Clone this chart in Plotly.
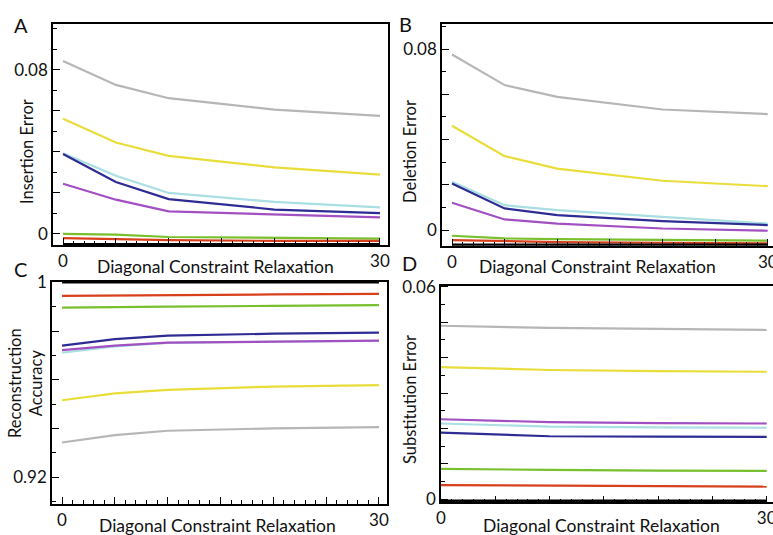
import plotly.graph_objects as go

# ---------------- data ----------------
relax = [0, 5, 10, 20, 30]
series_names = ["gray", "yellow", "cyan", "darkblue", "purple", "green", "red", "black"]
series_colors = ["#b6b6b6", "#e9dd3a", "#a9dfe3", "#2e2c94", "#a24fc2", "#78c02e", "#d8401c", "#000000"]

insertion = {
    "gray":     [0.0844, 0.0727, 0.0662, 0.0606, 0.0576],
    "yellow":   [0.0562, 0.0446, 0.0381, 0.0325, 0.0289],
    "cyan":     [0.0394, 0.0284, 0.0200, 0.0156, 0.0130],
    "darkblue": [0.0390, 0.0253, 0.0170, 0.0119, 0.0101],
    "purple":   [0.0245, 0.0167, 0.0110, 0.0097, 0.0081],
    "green":    [0.0000, -0.0003, -0.0015, -0.0020, -0.0023],
    "red":      [-0.0020, -0.0026, -0.0030, -0.0034, -0.0034],
    "black":    [-0.0051, -0.0051, -0.0051, -0.0051, -0.0051],
}
deletion = {
    "gray":     [0.0776, 0.0641, 0.0589, 0.0533, 0.0513],
    "yellow":   [0.0461, 0.0327, 0.0272, 0.0218, 0.0194],
    "cyan":     [0.0214, 0.0110, 0.0088, 0.0059, 0.0029],
    "darkblue": [0.0206, 0.0096, 0.0066, 0.0040, 0.0022],
    "purple":   [0.0121, 0.0047, 0.0029, 0.0007, -0.0003],
    "green":    [-0.0025, -0.0037, -0.0040, -0.0044, -0.0047],
    "red":      [-0.0044, -0.0050, -0.0053, -0.0056, -0.0059],
    "black":    [-0.0065, -0.0065, -0.0065, -0.0065, -0.0065],
}
accuracy = {
    "gray":     [0.9343, 0.9373, 0.9391, 0.9401, 0.9406],
    "yellow":   [0.9516, 0.9544, 0.9559, 0.9572, 0.9578],
    "cyan":     [0.9711, 0.9737, 0.9751, 0.9757, 0.9759],
    "darkblue": [0.9740, 0.9767, 0.9781, 0.9789, 0.9793],
    "purple":   [0.9722, 0.9740, 0.9752, 0.9758, 0.9761],
    "green":    [0.9896, 0.9899, 0.9900, 0.9903, 0.9906],
    "red":      [0.9944, 0.9946, 0.9947, 0.9950, 0.9952],
    "black":    [1.0000, 1.0000, 1.0000, 1.0000, 1.0000],
}
substitution = {
    "gray":     [0.0490, 0.0487, 0.0484, 0.0481, 0.0478],
    "yellow":   [0.0373, 0.0368, 0.0365, 0.0362, 0.0360],
    "cyan":     [0.0214, 0.0209, 0.0205, 0.0203, 0.0202],
    "purple":   [0.0226, 0.0221, 0.0218, 0.0215, 0.0214],
    "darkblue": [0.0188, 0.0183, 0.0178, 0.0177, 0.0176],
    "green":    [0.0086, 0.0084, 0.0083, 0.0081, 0.0080],
    "red":      [0.0040, 0.0039, 0.0038, 0.0037, 0.0036],
    "black":    [-0.0004, -0.0004, -0.0004, -0.0004, -0.0004],
}

x_tickvals = [0, 5, 10, 15, 20, 25, 30]
x_ticktext = ["0", "", "", "", "", "", "30"]
err_tickvals_A = [0, 0.02, 0.04, 0.06, 0.08]
err_ticktext_A = ["0", "", "", "", "0.08"]
err_tickvals_B = [0, 0.02, 0.04, 0.06, 0.08]
err_ticktext_B = ["0", "", "", "", "0.08"]
acc_tickvals = [0.92, 0.94, 0.96, 0.98, 1.0]
acc_ticktext = ["0.92", "", "", "", "1"]
sub_tickvals = [0, 0.01, 0.02, 0.03, 0.04, 0.05, 0.06]
sub_ticktext = ["0", "", "", "", "", "", "0.06"]

xlabel = "Diagonal Constraint Relaxation"
panel_letters = ["A", "B", "C", "D"]
ylabels = ["Insertion Error", "Deletion Error", "Reconstruction<br>Accuracy", "Substitution Error"]

# ---------------- figure ----------------
W, H = 773, 535
FONT = "Lato, 'Open Sans', sans-serif"
fig = go.Figure()

panels = [
    (insertion, "x", "y"),
    (deletion, "x2", "y2"),
    (accuracy, "x3", "y3"),
    (substitution, "x4", "y4"),
]
for data, xa, ya in panels:
    for name, col in zip(series_names, series_colors):
        fig.add_trace(go.Scatter(
            x=relax, y=data[name], mode="lines", name=name,
            line=dict(color=col, width=2.2 if name != "black" else 2.6),
            xaxis=xa, yaxis=ya, showlegend=False, hoverinfo="skip",
        ))

def px_x(p):
    return p / W

def px_y(p):
    return 1 - p / H

def xaxis_cfg(domain, rng, anchor):
    return dict(
        domain=domain, range=rng, anchor=anchor, automargin=False,
        tickmode="array", tickvals=x_tickvals, ticktext=x_ticktext,
        ticks="inside", ticklen=7, tickwidth=1.3, tickcolor="black",
        minor=dict(ticks="inside", dtick=1, ticklen=4, tickwidth=1, tickcolor="black"),
        showline=True, linecolor="black", linewidth=1.5, mirror=True,
        showgrid=False, zeroline=False, ticklabeloverflow="allow",
        tickfont=dict(family=FONT, size=17, color="#111"),
    )

def yaxis_cfg(domain, rng, anchor, tv, tt, minor_dtick, mirror):
    return dict(
        domain=domain, range=rng, anchor=anchor, automargin=False,
        tickmode="array", tickvals=tv, ticktext=tt,
        ticks="inside", ticklen=7, tickwidth=1.3, tickcolor="black",
        minor=dict(ticks="inside", dtick=minor_dtick, ticklen=4, tickwidth=1, tickcolor="black"),
        showline=True, linecolor="black", linewidth=1.5, mirror=mirror,
        showgrid=False, zeroline=False, ticklabeloverflow="allow",
        tickfont=dict(family=FONT, size=17, color="#111"),
    )

fig.update_layout(
    width=W, height=H,
    margin=dict(l=0, r=0, t=0, b=0, autoexpand=False),
    paper_bgcolor="white", plot_bgcolor="white",
    font=dict(family=FONT, size=16, color="#111"),
    xaxis=xaxis_cfg([px_x(53), px_x(388)], [-0.95, 30.76], "y"),
    yaxis=yaxis_cfg([px_y(245), px_y(24)], [-0.0054, 0.1024], "x",
                    err_tickvals_A, err_ticktext_A, 0.01, True),
    xaxis2=xaxis_cfg([px_x(442), 1.0], [-0.95, 30.5], "y2"),
    yaxis2=yaxis_cfg([px_y(245.7), px_y(24)], [-0.0069, 0.0911], "x2",
                     err_tickvals_B, err_ticktext_B, 0.01, False),
    xaxis3=xaxis_cfg([px_x(52), px_x(387)], [-0.95, 30.76], "y3"),
    yaxis3=yaxis_cfg([px_y(503.7), px_y(281.5)], [0.9092, 1.0003], "x3",
                     acc_tickvals, acc_ticktext, 0.01, True),
    xaxis4=xaxis_cfg([px_x(441), 1.0], [0, 30.58], "y4"),
    yaxis4=yaxis_cfg([px_y(502.3), px_y(285.7)], [-0.00085, 0.0603], "x4",
                     sub_tickvals, sub_ticktext, 0.005, False),
)

annos = []
# panel letters
for letter, (xp, yp) in zip(panel_letters, [(21, 25), (405, 24), (20, 269), (410, 263)]):
    annos.append(dict(text=letter, x=px_x(xp), y=px_y(yp), xref="paper", yref="paper",
                      showarrow=False, xanchor="center", yanchor="middle",
                      font=dict(family=FONT, size=20, color="#111")))
# y-axis titles
for lab, (xp, yp) in zip(ylabels, [(27, 152), (410, 151), (25, 383), (410, 399)]):
    annos.append(dict(text=lab, x=px_x(xp), y=px_y(yp), xref="paper", yref="paper",
                      showarrow=False, textangle=-90, xanchor="center", yanchor="middle",
                      font=dict(family=FONT, size=16.5, color="#111")))
# x-axis titles
for (xp, yp) in [(215, 266), (597, 266), (217, 525), (601, 525)]:
    annos.append(dict(text=xlabel, x=px_x(xp), y=px_y(yp), xref="paper", yref="paper",
                      showarrow=False, xanchor="center", yanchor="middle",
                      font=dict(family=FONT, size=17.5, color="#111")))
fig.update_layout(annotations=annos)

fig.write_html("out.html", config={"displayModeBar": False},
               post_script="document.body.style.margin='0';document.body.style.overflow='hidden';")
